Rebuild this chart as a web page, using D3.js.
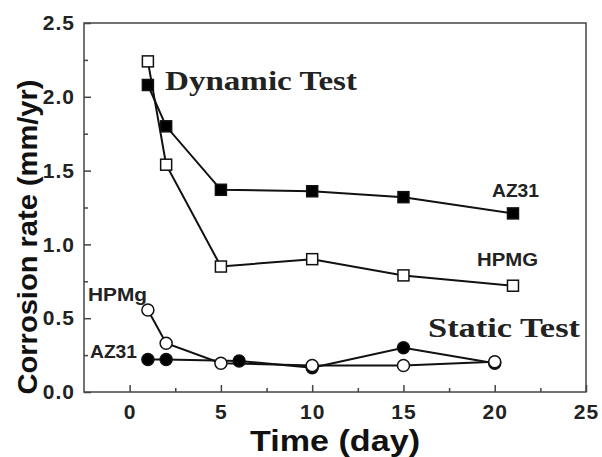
<html>
<head>
<script src="https://d3js.org/d3.v7.min.js"></script>
<style>
  body { margin: 0; background: #fff; }
  text { font-family: "Liberation Sans", Arial, sans-serif; font-weight: bold; }
</style>
</head>
<body>
<svg width="602" height="457"></svg>
<script>
// chart values
var xTicks = [0, 5, 10, 15, 20, 25];
var yTicks = [0.0, 0.5, 1.0, 1.5, 2.0, 2.5];

var dynAZ31Days = [1, 2, 5, 10, 15, 21];
var dynAZ31Rate = [2.08, 1.80, 1.37, 1.36, 1.32, 1.21];

var dynHPMGDays = [1, 2, 5, 10, 15, 21];
var dynHPMGRate = [2.24, 1.54, 0.85, 0.90, 0.79, 0.72];

var staHPMgDays = [1, 2, 5, 10, 15, 20];
var staHPMgRate = [0.555, 0.33, 0.195, 0.18, 0.18, 0.205];

var staAZ31Days = [1, 2, 6, 10, 15, 20];
var staAZ31Rate = [0.22, 0.22, 0.21, 0.165, 0.30, 0.195];

var svg = d3.select("svg");
var plotL = 84, plotR = 586, plotT = 23, plotB = 392;

var x = d3.scaleLinear().domain([-2.5, 25]).range([plotL, plotR]);
var y = d3.scaleLinear().domain([0, 2.5]).range([plotB, plotT]);

function pairs(xs, ys) {
  return xs.map(function (d, i) { return [d, ys[i]]; });
}

// frame
svg.append("rect")
  .attr("x", plotL).attr("y", plotT)
  .attr("width", plotR - plotL).attr("height", plotB - plotT)
  .attr("fill", "none").attr("stroke", "#444").attr("stroke-width", 1.5);

// axes, ticks pointing inward
var xAxis = d3.axisBottom(x).tickValues(xTicks).tickSize(-7).tickPadding(12)
  .tickFormat(d3.format("d"));
var gx = svg.append("g").attr("transform", "translate(0," + plotB + ")").call(xAxis);
var yAxis = d3.axisLeft(y).tickValues(yTicks).tickSize(-7).tickPadding(9)
  .tickFormat(d3.format(".1f"));
var gy = svg.append("g").attr("transform", "translate(" + plotL + ",0)").call(yAxis);

// minor ticks
var gxm = svg.append("g").attr("transform", "translate(0," + plotB + ")")
  .call(d3.axisBottom(x).tickValues([2.5, 7.5, 12.5, 17.5, 22.5]).tickSize(-4).tickFormat(""));
var gym = svg.append("g").attr("transform", "translate(" + plotL + ",0)")
  .call(d3.axisLeft(y).tickValues([0.25, 0.75, 1.25, 1.75, 2.25]).tickSize(-4).tickFormat(""));

[gx, gy, gxm, gym].forEach(function (g) {
  g.select(".domain").remove();
  g.selectAll("line").attr("stroke", "#444").attr("stroke-width", 1.5);
  g.selectAll("text").attr("font-size", 21).attr("fill", "#222")
    .style("font-family", "'Liberation Sans', Arial, sans-serif").style("font-weight", "bold")
    .style("letter-spacing", "1px");
});

// axis titles
svg.append("text")
  .attr("x", 335).attr("y", 451)
  .attr("text-anchor", "middle")
  .attr("font-size", 30)
  .attr("textLength", 170).attr("lengthAdjust", "spacingAndGlyphs")
  .attr("fill", "#111")
  .text("Time (day)");

svg.append("text")
  .attr("transform", "translate(37,237) rotate(-90)")
  .attr("text-anchor", "middle")
  .attr("font-size", 28)
  .attr("textLength", 315).attr("lengthAdjust", "spacingAndGlyphs")
  .attr("fill", "#111")
  .text("Corrosion rate (mm/yr)");

var line = d3.line().x(function (d) { return x(d[0]); }).y(function (d) { return y(d[1]); });

var series = [
  { data: pairs(staAZ31Days, staAZ31Rate), shape: "circle", fill: "#000" },
  { data: pairs(staHPMgDays, staHPMgRate), shape: "circle", fill: "#fff" },
  { data: pairs(dynHPMGDays, dynHPMGRate), shape: "square", fill: "#fff" },
  { data: pairs(dynAZ31Days, dynAZ31Rate), shape: "square", fill: "#000" }
];

series.forEach(function (s) {
  svg.append("path")
    .attr("d", line(s.data))
    .attr("fill", "none").attr("stroke", "#111").attr("stroke-width", 2);
});

series.forEach(function (s) {
  var g = svg.append("g");
  if (s.shape === "square") {
    g.selectAll("rect").data(s.data).enter().append("rect")
      .attr("x", function (d) { return x(d[0]) - 5.5; })
      .attr("y", function (d) { return y(d[1]) - 5.5; })
      .attr("width", 11).attr("height", 11)
      .attr("fill", s.fill).attr("stroke", "#111").attr("stroke-width", 1.5);
  } else {
    g.selectAll("circle").data(s.data).enter().append("circle")
      .attr("cx", function (d) { return x(d[0]); })
      .attr("cy", function (d) { return y(d[1]); })
      .attr("r", 6)
      .attr("fill", s.fill).attr("stroke", "#111").attr("stroke-width", 1.5);
  }
});

// annotations
function serif(txt, tx, ty, len) {
  svg.append("text").attr("x", tx).attr("y", ty)
    .style("font-family", "'Liberation Serif', 'Times New Roman', serif")
    .attr("font-size", 28).attr("fill", "#222")
    .attr("textLength", len).attr("lengthAdjust", "spacingAndGlyphs")
    .text(txt);
}
serif("Dynamic Test", 165, 90, 192);
serif("Static Test", 428, 337, 152);

function label(txt, tx, ty, len) {
  svg.append("text").attr("x", tx).attr("y", ty)
    .attr("font-size", 18).attr("fill", "#222")
    .attr("textLength", len).attr("lengthAdjust", "spacingAndGlyphs")
    .text(txt);
}
label("AZ31", 492, 197, 47);
label("HPMG", 477, 266, 61);
label("HPMg", 88, 301, 59);
label("AZ31", 90, 358, 47);
</script>
</body>
</html>
